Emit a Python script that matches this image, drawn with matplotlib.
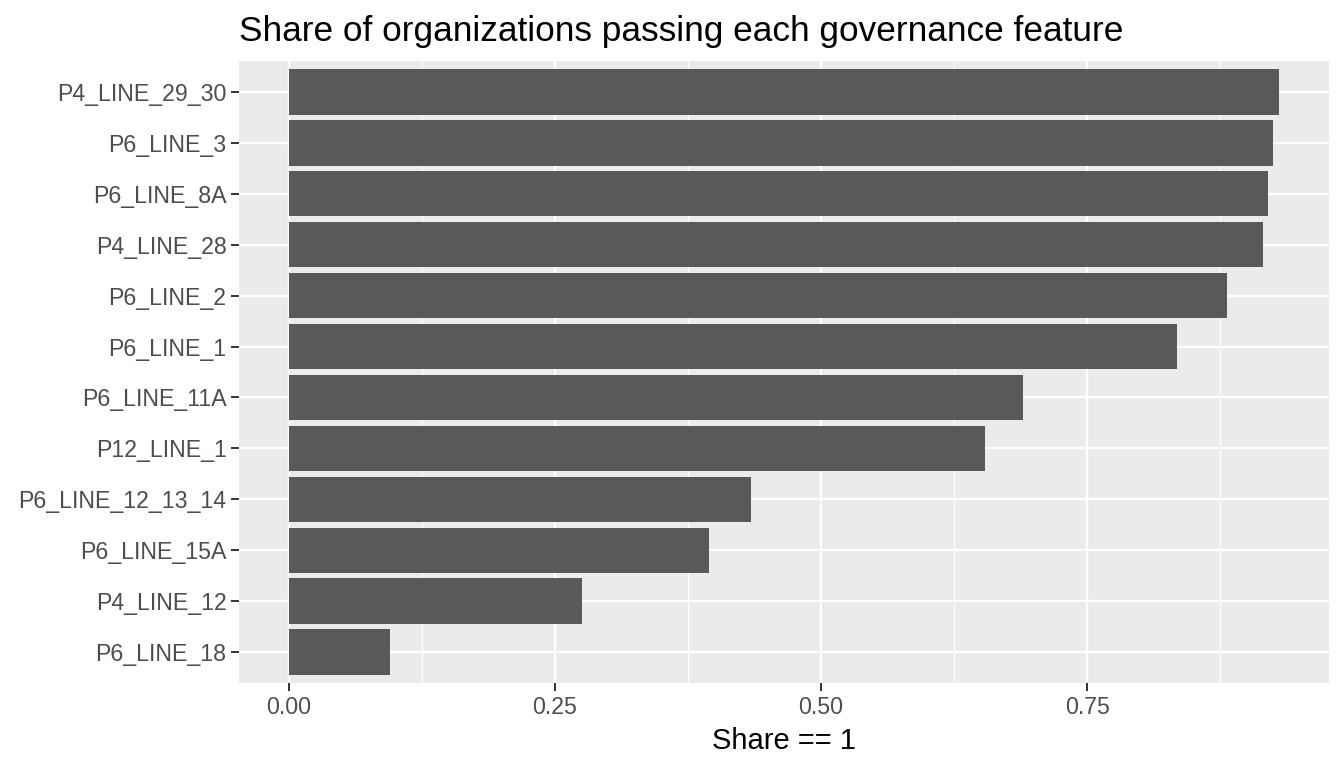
import matplotlib
matplotlib.use("Agg")
import matplotlib.pyplot as plt
import numpy as np

categories = ["P4_LINE_29_30", "P6_LINE_3", "P6_LINE_8A", "P4_LINE_28", "P6_LINE_2",
              "P6_LINE_1", "P6_LINE_11A", "P12_LINE_1", "P6_LINE_12_13_14",
              "P6_LINE_15A", "P4_LINE_12", "P6_LINE_18"]
shares = [0.9306, 0.925, 0.920, 0.9156, 0.881, 0.834, 0.6893, 0.6545, 0.434,
          0.3945, 0.2753, 0.0951]
xticks = [0.0, 0.25, 0.5, 0.75]
xticklabels = ["0.00", "0.25", "0.50", "0.75"]

plt.rcParams['font.family'] = ['Liberation Sans', 'DejaVu Sans']

W, H = 1344, 768
fig = plt.figure(figsize=(W / 100, H / 100), dpi=100)
left, right, top, bottom = 239, 1329, 61, 683
ax = fig.add_axes([left / W, 1 - bottom / H, (right - left) / W, (bottom - top) / H])
ax.set_facecolor("#EBEBEB")

n = len(categories)
ypos = np.arange(n)[::-1]  # first category on top
ax.barh(ypos, shares, height=0.9, color="#595959", zorder=3)

xmax = max(shares)
pad = 0.05 * xmax
ax.set_xlim(-pad, xmax + pad)
ax.set_ylim(-0.6, n - 1 + 0.6)

ax.set_xticks(xticks)
ax.set_xticklabels(xticklabels)
ax.set_xticks([0.125, 0.375, 0.625, 0.875], minor=True)
ax.set_yticks(ypos)
ax.set_yticklabels(categories)

ax.grid(which="major", color="white", linewidth=1.6, zorder=1)
ax.grid(which="minor", axis="x", color="white", linewidth=0.8, zorder=1)
ax.set_axisbelow(True)
for s in ax.spines.values():
    s.set_visible(False)

ax.tick_params(axis="both", which="major", length=5.5, width=1.4, color="#333333",
               labelsize=16.7, labelcolor="#4D4D4D", pad=3.5)
ax.tick_params(axis="both", which="minor", length=0)

ax.set_xlabel("Share == 1", fontsize=21, color="black", labelpad=6)
fig.text(left / W, 1 - 31 / H, "Share of organizations passing each governance feature",
         fontsize=25.4, color="black", ha="left", va="center")

fig.savefig("out.png", dpi=100, facecolor="white")
